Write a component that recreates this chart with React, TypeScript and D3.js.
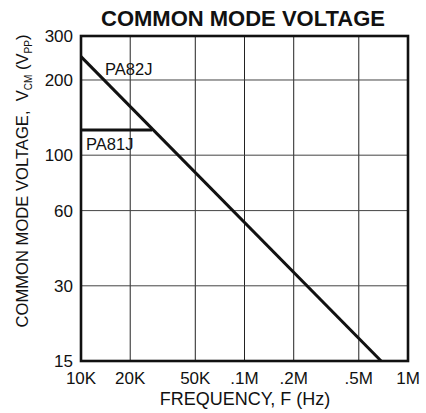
import * as React from "react";
import * as d3 from "d3";

// frequency ticks and their labels
const xTicks = [1e4, 2e4, 5e4, 1e5, 2e5, 5e5, 1e6];
const xLabels = ["10K", "20K", "50K", ".1M", ".2M", ".5M", "1M"];
const yTicks = [15, 30, 60, 100, 200, 300];

// curves: [frequency, volts p-p]
const pa82j = [
  [1e4, 248],
  [6.85e5, 15],
];
const pa81j = [
  [1e4, 126],
  [2.72e4, 126],
];

function App() {
  const width = 426;
  const height = 413;
  const left = 81;
  const right = 408;
  const top = 36;
  const bottom = 361;
  const font = "Liberation Sans, Arial, Helvetica, sans-serif";

  const x = d3.scaleLog().domain([1e4, 1e6]).range([left, right]);
  const y = d3.scaleLog().domain([15, 300]).range([bottom, top]);

  const line = d3
    .line<number[]>()
    .x((d) => x(d[0]))
    .y((d) => y(d[1]));

  return (
    <svg
      width={width}
      height={height}
      style={{ position: "absolute", left: 0, top: 0, background: "#fff" }}
      fontFamily={font}
    >
      {/* grid */}
      {xTicks.map((d, i) => (
        <line
          key={"gx" + i}
          x1={x(d)}
          x2={x(d)}
          y1={top}
          y2={bottom}
          stroke="#222"
          strokeWidth={1}
        />
      ))}
      {yTicks.map((d, i) => (
        <line
          key={"gy" + i}
          x1={left}
          x2={right}
          y1={y(d)}
          y2={y(d)}
          stroke="#444"
          strokeWidth={1}
        />
      ))}
      {/* data */}
      <path d={line(pa82j) ?? ""} fill="none" stroke="#111" strokeWidth={3} />
      <path d={line(pa81j) ?? ""} fill="none" stroke="#111" strokeWidth={3} />
      {/* frame */}
      <rect
        x={left}
        y={top}
        width={right - left}
        height={bottom - top}
        fill="none"
        stroke="#111"
        strokeWidth={2.6}
      />
      {/* curve labels */}
      <text x={105} y={75} fontSize={16.5} fill="#111">
        PA82J
      </text>
      <text x={86} y={150} fontSize={16.5} fill="#111">
        PA81J
      </text>
      {/* tick labels */}
      {xTicks.map((d, i) => (
        <text
          key={"tx" + i}
          x={x(d)}
          y={384}
          fontSize={17}
          textAnchor="middle"
          fill="#111"
        >
          {xLabels[i]}
        </text>
      ))}
      {yTicks.map((d, i) => (
        <text
          key={"ty" + i}
          x={73}
          y={y(d) + 6}
          fontSize={17}
          textAnchor="end"
          fill="#111"
        >
          {d}
        </text>
      ))}
      {/* titles */}
      <text
        x={243}
        y={26}
        fontSize={22}
        fontWeight="bold"
        textAnchor="middle"
        fill="#111"
      >
        COMMON MODE VOLTAGE
      </text>
      <text x={245} y={405} fontSize={18} textAnchor="middle" fill="#111">
        FREQUENCY, F (Hz)
      </text>
      <text
        transform={`translate(28, 181) rotate(-90)`}
        fontSize={16.6}
        textAnchor="middle"
        fill="#111"
      >
        COMMON MODE VOLTAGE,{"\u00a0\u00a0"}V
        <tspan fontSize={10} dy={4}>
          CM
        </tspan>
        <tspan dy={-4}> (V</tspan>
        <tspan fontSize={10} dy={4}>
          PP
        </tspan>
        <tspan dy={-4}>)</tspan>
      </text>
    </svg>
  );
}

export default App;
